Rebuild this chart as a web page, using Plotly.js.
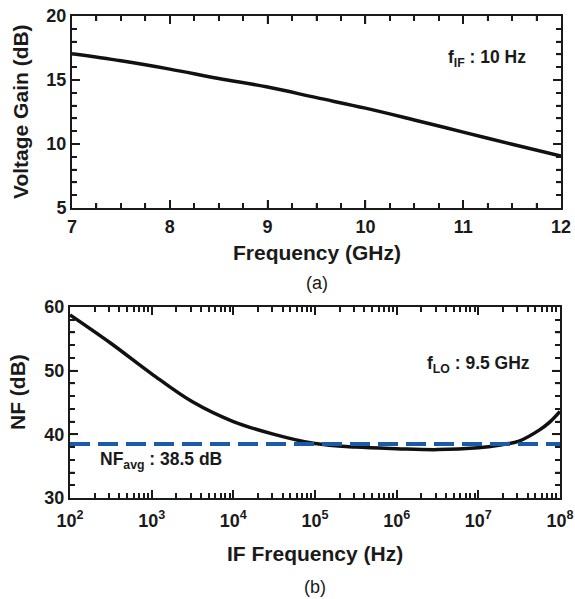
<!DOCTYPE html>
<html>
<head>
<meta charset="utf-8">
<script src="https://cdn.plot.ly/plotly-3.0.1.min.js"></script>
<style>html,body{margin:0;padding:0;background:#fff;}#chartA{width:575px;height:295px;}#chartB{width:575px;height:304px;}</style>
</head>
<body>
<div id="chartA"></div>
<div id="chartB"></div>
<script>
// Panel (a): voltage gain vs RF frequency
const gainFreq = [7, 7.5, 8, 8.5, 9, 9.5, 10, 10.5, 11, 11.5, 12];
const gainDb = [17.05, 16.5, 15.85, 15.12, 14.45, 13.62, 12.8, 11.88, 10.93, 9.98, 9.05];

// Panel (b): noise figure vs IF frequency
const ifFreq = [1e2, 3.16e2, 1e3, 3.16e3, 1e4, 3.16e4, 1e5, 3.16e5, 1e6, 3.16e6, 1e7, 1.78e7, 3.16e7, 5.62e7, 7.6e7, 1e8];
const nfDb = [58.75, 54.3, 49.5, 45.1, 42.0, 40.0, 38.55, 38.0, 37.75, 37.6, 37.9, 38.3, 38.95, 40.7, 42.0, 43.6];
const nfAvg = 38.5;

// Tick values
const xTicksA = [7, 8, 9, 10, 11, 12];
const yTicksA = [5, 10, 15, 20];
const xTickValsB = [1e2, 1e3, 1e4, 1e5, 1e6, 1e7, 1e8];
const xTickTextB = ['10<sup>2</sup>', '10<sup>3</sup>', '10<sup>4</sup>', '10<sup>5</sup>', '10<sup>6</sup>', '10<sup>7</sup>', '10<sup>8</sup>'];
const yTicksB = [30, 40, 50, 60];
const minorMult = [2, 3, 4, 5, 6, 7, 8, 9];

const xMinorA = [], yMinorA = [], xMinorB = [], yMinorB = [];
for (let v = 7; v < 12; v += 0.25) if (v % 1 !== 0) xMinorA.push(v);
for (let v = 6; v < 20; v += 1) if (v % 5 !== 0) yMinorA.push(v);
xTickValsB.slice(0, -1).forEach(d => minorMult.forEach(m => xMinorB.push(d * m)));
for (let v = 32; v < 60; v += 2) if (v % 10 !== 0) yMinorB.push(v);

const font = 'Liberation Sans, Arial, sans-serif';
const tickFont = {family: font, size: 18, color: '#1a1a1a', weight: 'bold'};
const titleFont = {family: font, size: 21, color: '#1a1a1a', weight: 'bold'};
const annFont = {family: font, size: 17.5, color: '#1a1a1a', weight: 'bold'};
const INK = '#1a1a1a';

const axisBase = {
  showgrid: false, zeroline: false, showline: true, linecolor: INK, linewidth: 2,
  mirror: 'ticks', ticks: 'inside', ticklen: 8, tickwidth: 1.5, tickcolor: INK,
  tickfont: tickFont
};
const minorBase = {ticks: 'inside', ticklen: 5, tickwidth: 1.5, tickcolor: INK};

// Inside tick marks on all four sides, placed through the axes' own scales
function xTickShapes(vals, len, toAxis) {
  const out = [];
  vals.forEach(v => {
    const xv = toAxis ? toAxis(v) : v;
    [[0, len], [1, -len]].forEach(([anc, l]) => out.push({
      type: 'line', layer: 'above', xref: 'x', yref: 'y domain', x0: xv, x1: xv,
      ysizemode: 'pixel', yanchor: anc, y0: 0, y1: l, line: {color: INK, width: 1.5}
    }));
  });
  return out;
}
function yTickShapes(vals, len) {
  const out = [];
  vals.forEach(v => {
    [[0, len], [1, -len]].forEach(([anc, l]) => out.push({
      type: 'line', layer: 'above', xref: 'x domain', yref: 'y', y0: v, y1: v,
      xsizemode: 'pixel', xanchor: anc, x0: 0, x1: l, line: {color: INK, width: 1.5}
    }));
  });
  return out;
}

function ann(text, x, y, fnt, extra) {
  return Object.assign({text: text, xref: 'paper', yref: 'paper', x: x, y: y, showarrow: false,
    font: fnt, xanchor: 'center', yanchor: 'middle'}, extra || {});
}

// ---- Panel (a)
const HA = 295;
const layoutA = {
  width: 575, height: HA,
  margin: {l: 0, r: 0, t: 0, b: 0},
  showlegend: false,
  xaxis: Object.assign({}, axisBase, {
    domain: [72/575, 561/575], range: [7, 12], tickmode: 'array', tickvals: xTicksA, ticklabelstandoff: 1,
    minor: Object.assign({tickmode: 'array', tickvals: xMinorA}, minorBase)
  }),
  yaxis: Object.assign({}, axisBase, {
    domain: [1 - 208/HA, 1 - 16/HA], range: [5, 20], tickmode: 'array', tickvals: yTicksA,
    minor: Object.assign({tickmode: 'array', tickvals: yMinorA}, minorBase)
  }),
  shapes: [].concat(
    xTickShapes(xTicksA.slice(1, -1), 8), xTickShapes(xMinorA, 5),
    yTickShapes(yTicksA.slice(1, -1), 8), yTickShapes(yMinorA, 5)
  ),
  annotations: [
    ann('Frequency (GHz)', (72 + 561) / 2 / 575, 1 - 252/HA, titleFont),
    ann('Voltage Gain (dB)', 20/575, 1 - 112/HA, titleFont, {textangle: -90}),
    ann('(a)', (72 + 561) / 2 / 575, 1 - 283/HA, {family: font, size: 18, color: INK}),
    ann('f<sub>IF</sub> : 10 Hz', 446/575, 1 - 58/HA, annFont, {xanchor: 'left'})
  ]
};
const tracesA = [
  {x: gainFreq, y: gainDb, mode: 'lines', line: {color: '#111', width: 3.5, shape: 'spline'}, hoverinfo: 'skip'}
];

// ---- Panel (b)
const HB = 304, OB = 295;
const layoutB = {
  width: 575, height: HB,
  margin: {l: 0, r: 0, t: 0, b: 0},
  showlegend: false,
  xaxis: Object.assign({}, axisBase, {
    domain: [70/575, 560/575], type: 'log', range: [2, 8],
    tickmode: 'array', tickvals: xTickValsB, ticktext: xTickTextB, ticklabelstandoff: 5,
    minor: Object.assign({tickmode: 'array', tickvals: xMinorB}, minorBase)
  }),
  yaxis: Object.assign({}, axisBase, {
    domain: [1 - (498 - OB)/HB, 1 - (307 - OB)/HB], range: [30, 60], tickmode: 'array', tickvals: yTicksB,
    minor: Object.assign({tickmode: 'array', tickvals: yMinorB}, minorBase)
  }),
  shapes: [].concat(
    xTickShapes(xTickValsB.slice(1, -1), 8, Math.log10), xTickShapes(xMinorB, 5, Math.log10),
    yTickShapes(yTicksB.slice(1, -1), 8), yTickShapes(yMinorB, 5)
  ),
  annotations: [
    ann('IF Frequency (Hz)', (70 + 560) / 2 / 575, 1 - (553 - OB)/HB, titleFont),
    ann('NF (dB)', 18/575, 1 - (392 - OB)/HB, titleFont, {textangle: -90}),
    ann('(b)', (70 + 560) / 2 / 575, 1 - (587 - OB)/HB, {family: font, size: 18, color: INK}),
    ann('f<sub>LO</sub> : 9.5 GHz', 425/575, 1 - (364 - OB)/HB, annFont, {xanchor: 'left'}),
    ann('NF<sub>avg</sub> : 38.5 dB', 98/575, 1 - (460 - OB)/HB, annFont, {xanchor: 'left'})
  ]
};
const tracesB = [
  {x: ifFreq, y: nfDb, mode: 'lines', line: {color: '#111', width: 3.5, shape: 'spline'}, hoverinfo: 'skip', showlegend: false},
  {x: [ifFreq[0], ifFreq[ifFreq.length - 1]], y: [nfAvg, nfAvg], mode: 'lines',
   line: {color: '#1a5aab', width: 4, dash: '20px,8px'}, hoverinfo: 'skip', showlegend: false}
];

Plotly.newPlot('chartA', tracesA, layoutA, {displayModeBar: false});
Plotly.newPlot('chartB', tracesB, layoutB, {displayModeBar: false});
</script>
</body>
</html>
